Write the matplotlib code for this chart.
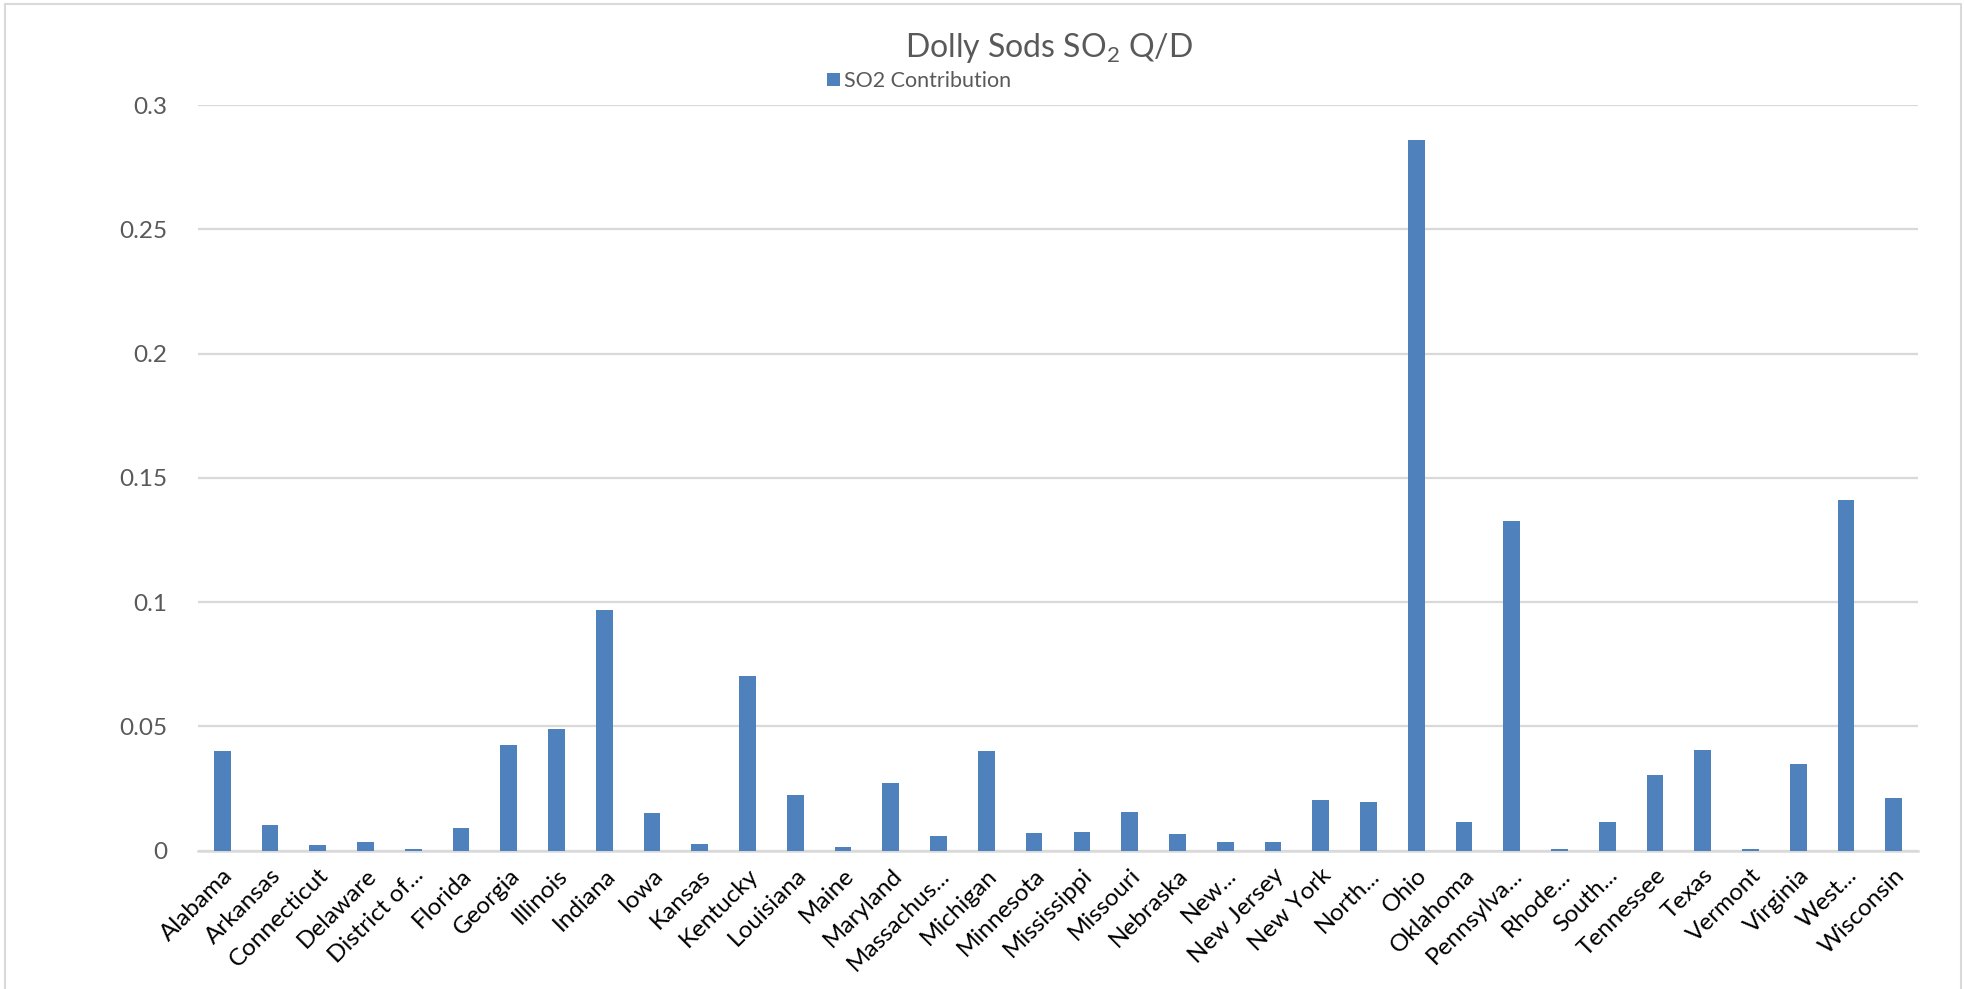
import matplotlib
matplotlib.use("Agg")
import matplotlib.pyplot as plt
from matplotlib.patches import Rectangle

plt.rcParams['font.family'] = ['Lato', 'DejaVu Sans']
plt.rcParams['mathtext.fontset'] = 'custom'
plt.rcParams['mathtext.rm'] = 'Lato'

# Data
states = ["Alabama", "Arkansas", "Connecticut", "Delaware", "District of...",
          "Florida", "Georgia", "Illinois", "Indiana", "Iowa", "Kansas",
          "Kentucky", "Louisiana", "Maine", "Maryland", "Massachus...",
          "Michigan", "Minnesota", "Mississippi", "Missouri", "Nebraska",
          "New...", "New Jersey", "New York", "North...", "Ohio", "Oklahoma",
          "Pennsylva...", "Rhode...", "South...", "Tennessee", "Texas",
          "Vermont", "Virginia", "West...", "Wisconsin"]
so2 = [0.0401, 0.0102, 0.0023, 0.0036, 0.0008,
       0.0090, 0.0425, 0.0490, 0.0968, 0.0150, 0.0027,
       0.0704, 0.0223, 0.0014, 0.0272, 0.0059,
       0.0402, 0.0072, 0.0075, 0.0155, 0.0069,
       0.0033, 0.0035, 0.0203, 0.0196, 0.2859, 0.0115,
       0.1325, 0.0006, 0.0117, 0.0306, 0.0407,
       0.0005, 0.0349, 0.1411, 0.0212]
yticks = [0, 0.05, 0.1, 0.15, 0.2, 0.25, 0.3]
yticklabels = ["0", "0.05", "0.1", "0.15", "0.2", "0.25", "0.3"]

W, H = 1965, 989
fig = plt.figure(figsize=(W / 100, H / 100), dpi=100)
ax = fig.add_axes([198.3 / W, 1 - 850.7 / H, (1917.7 - 198.3) / W, (850.7 - 105) / H])

x = range(len(states))
bars = ax.bar(x, so2, width=0.35, color="#4F81BD", label="SO2 Contribution", zorder=3)

ax.set_xlim(-0.5, len(states) - 0.5)
ax.set_ylim(0, 0.3)
ax.set_yticks(yticks)
ax.set_yticklabels(yticklabels, color="#595959", fontsize=17.5)
ax.set_xticks(list(x))
ax.set_xticklabels(states, rotation=45, ha="right", rotation_mode="anchor",
                   fontsize=17.5, color="black")
ax.tick_params(axis="both", length=0)
ax.tick_params(axis="y", pad=22)
ax.tick_params(axis="x", pad=10)

ax.grid(axis="y", color="#D9D9D9", linewidth=1.6, zorder=0)
for side in ["top", "right", "left"]:
    ax.spines[side].set_visible(False)
ax.spines["bottom"].set_color("#D9D9D9")
ax.spines["bottom"].set_linewidth(1.8)

fig.text(1048.6 / W, 1 - 48 / H, "Dolly Sods SO$_\\mathregular{2}$ Q/D",
         ha="center", va="center", fontsize=23, color="#595959")

fig.legend(handles=[bars], loc="center left", bbox_to_anchor=(827 / W, 1 - 81 / H),
           frameon=False, fontsize=15.5, handlelength=0.6, handleheight=0.6,
           handletextpad=0.2, borderpad=0, borderaxespad=0, labelcolor="#595959")

# chart area border
fig.patches.append(Rectangle((5 / W, -0.01), (1961 - 5) / W, 1 - 4 / H + 0.01,
                             transform=fig.transFigure, fill=False,
                             edgecolor="#D9D9D9", linewidth=1.5))

fig.savefig("out.png", dpi=100)
